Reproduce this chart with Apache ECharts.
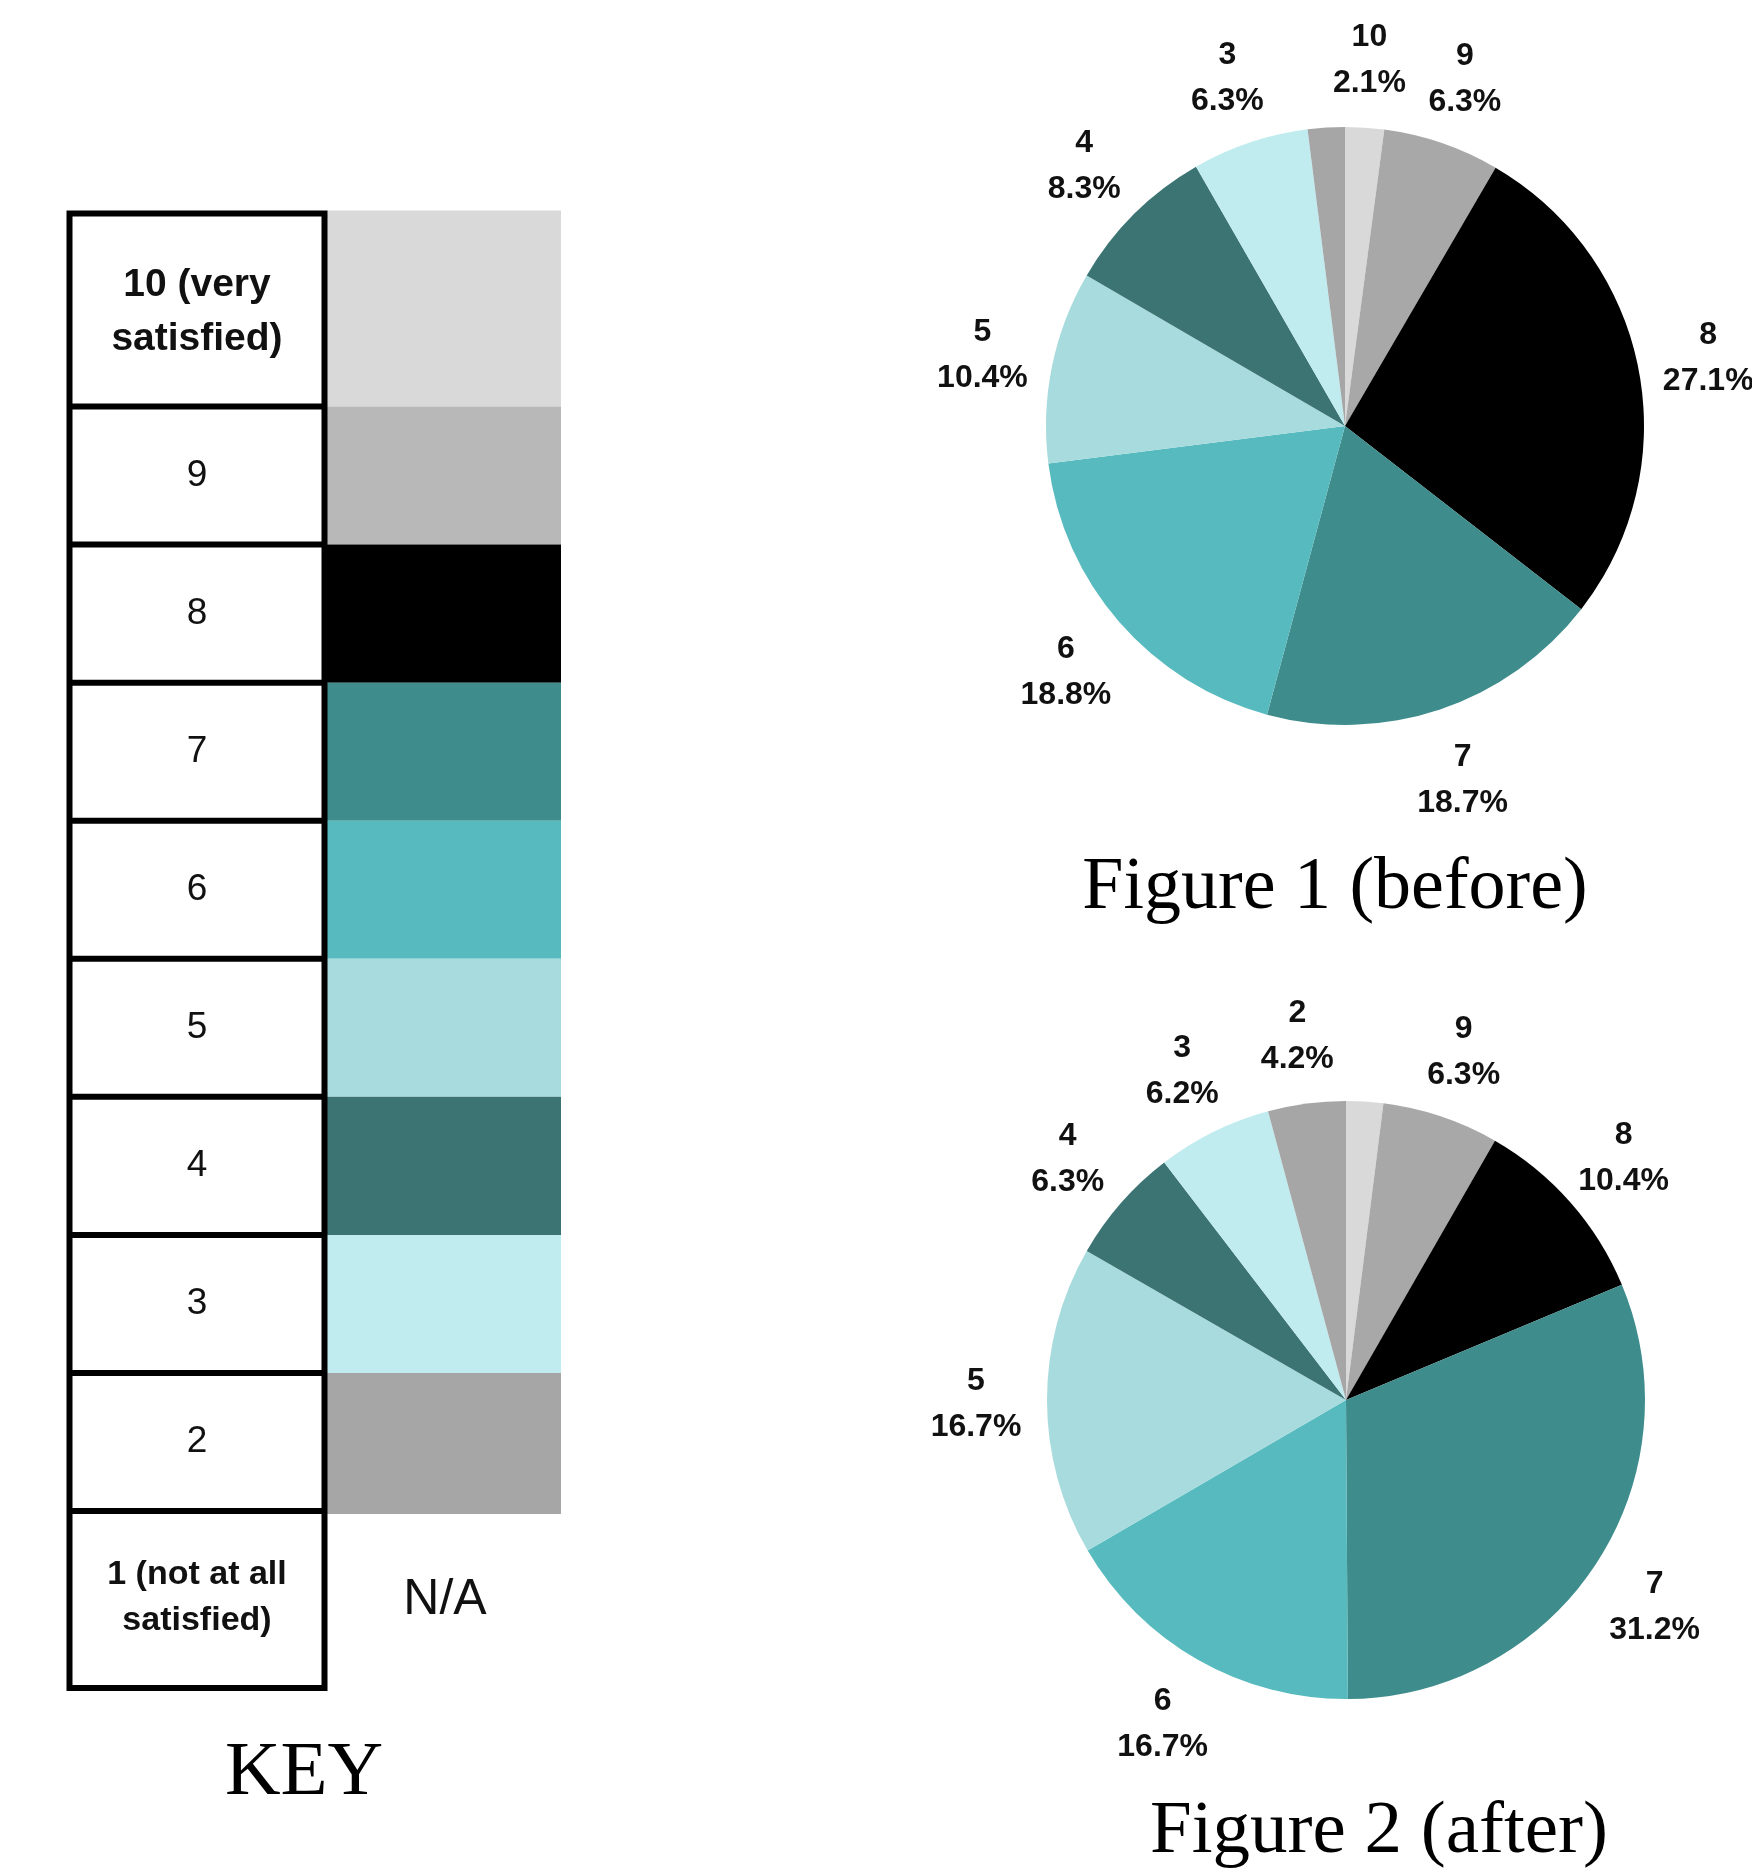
<!DOCTYPE html>
<html>
<head>
<meta charset="utf-8">
<title>Satisfaction before and after</title>
<script src="https://cdn.jsdelivr.net/npm/echarts@6/dist/echarts.min.js"></script>
<style>
  html, body { margin: 0; padding: 0; background: #ffffff; }
  #chart { width: 1752px; height: 1873px; }
</style>
</head>
<body>
<div id="chart"></div>
<script>
// Satisfaction scores, in slice order (clockwise from 12 o'clock)
const scores = ['10', '9', '8', '7', '6', '5', '4', '3', '2'];

// Share of responses per score, in percent
const beforeValues = [2.1, 6.3, 27.1, 18.7, 18.8, 10.4, 8.3, 6.3, 2.0];
const afterValues  = [2.0, 6.3, 10.4, 31.2, 16.7, 16.7, 6.3, 6.2, 4.2];

// Slices that carry a value label
const beforeLabelled = [true, true, true, true, true, true, true, true, false];
const afterLabelled  = [false, true, true, true, true, true, true, true, true];

// Slice fills, one per score
const sliceColors = ['#d9d9d9', '#a8a8a8', '#000000', '#3f8c8c', '#56babe', '#a7dbdd', '#3c7474', '#c0ecef', '#a6a6a6'];

// Key rows, top to bottom
const keyLabels = ['10 (very\nsatisfied)', '9', '8', '7', '6', '5', '4', '3', '2', '1 (not at all\nsatisfied)'];
const keyColors = ['#d9d9d9', '#b9b8b9', '#000000', '#3f8c8c', '#56babe', '#a7dbdd', '#3c7474', '#c0ecef', '#a6a6a6', null];
const keyMissingText = 'N/A';

const titleBefore = 'Figure 1 (before)';
const titleAfter = 'Figure 2 (after)';
const titleKey = 'KEY';

// ---- layout ----
const PIE_R = 299;
const LABEL_R = 367;
const LABEL_DROP = 3;
const PIE_BEFORE_CENTER = [1345, 426];
const PIE_AFTER_CENTER = [1346, 1400];

const KEY = {
  left: 69.5, right: 324.5,
  top: 213.5, firstLine: 406.5, lastLine: 1511, bottom: 1688,
  swatchLeft: 327, swatchRight: 561,
  line: 6
};

const SANS = '"Liberation Sans", Arial, sans-serif';
const SERIF = '"Liberation Serif", "Times New Roman", serif';

function rowBounds() {
  // boundaries between key rows; middle rows share one height
  const b = [KEY.top, KEY.firstLine];
  const n = keyLabels.length - 2;
  const h = (KEY.lastLine - KEY.firstLine) / n;
  for (let k = 1; k <= n; k++) b.push(KEY.firstLine + k * h);
  b.push(KEY.bottom);
  return b;
}

function keyGraphics() {
  const b = rowBounds();
  const els = [];
  const half = KEY.line / 2;
  // colour swatches
  keyColors.forEach((c, i) => {
    if (!c) return;
    const y0 = i === 0 ? KEY.top - half : b[i];
    const y1 = i === keyColors.length - 2 ? b[i + 1] + half : b[i + 1];
    els.push({
      type: 'rect', silent: true,
      shape: { x: KEY.swatchLeft, y: y0, width: KEY.swatchRight - KEY.swatchLeft, height: y1 - y0 },
      style: { fill: c }
    });
  });
  // outer frame
  els.push({
    type: 'rect', silent: true,
    shape: { x: KEY.left, y: KEY.top, width: KEY.right - KEY.left, height: KEY.bottom - KEY.top },
    style: { fill: 'none', stroke: '#000', lineWidth: KEY.line }
  });
  // row dividers
  for (let k = 1; k < b.length - 1; k++) {
    els.push({
      type: 'line', silent: true,
      shape: { x1: KEY.left, y1: b[k], x2: KEY.right, y2: b[k] },
      style: { stroke: '#000', lineWidth: KEY.line }
    });
  }
  // row texts
  const cx = (KEY.left + KEY.right) / 2;
  keyLabels.forEach((t, i) => {
    const first = i === 0, last = i === keyLabels.length - 1;
    els.push({
      type: 'text', silent: true,
      x: cx, y: (b[i] + b[i + 1]) / 2 + (first ? 2 : last ? -2 : 0),
      style: {
        text: t, align: 'center', verticalAlign: 'middle',
        fontFamily: SANS,
        fontSize: first ? 39 : last ? 34 : 37,
        fontWeight: (first || last) ? 'bold' : 'normal',
        lineHeight: last ? 46 : 54,
        fill: '#111'
      }
    });
  });
  // missing colour for the lowest score
  els.push({
    type: 'text', silent: true,
    x: (KEY.swatchLeft + KEY.swatchRight) / 2 + 1, y: (b[b.length - 2] + b[b.length - 1]) / 2 + 1,
    style: { text: keyMissingText, align: 'center', verticalAlign: 'middle', fontFamily: SANS, fontSize: 50, fill: '#111' }
  });
  return els;
}

function titleGraphic(text, x, baseline, size) {
  return {
    type: 'text', silent: true,
    x: x, y: baseline - 0.3375 * size,
    style: { text, align: 'center', verticalAlign: 'middle', fontFamily: SERIF, fontSize: size, fill: '#000' }
  };
}

function pieSeries(values, labelled, center) {
  return [
    {
      type: 'pie', center: center, radius: PIE_R,
      startAngle: 90, clockwise: true, avoidLabelOverlap: false,
      silent: true, emphasis: { disabled: true },
      label: { show: false }, labelLine: { show: false },
      itemStyle: { borderWidth: 0 },
      data: scores.map((s, i) => ({ name: s, value: values[i], itemStyle: { color: sliceColors[i] } }))
    },
    {
      // invisible ring used only to place the value labels around the pie
      type: 'pie', center: [center[0], center[1] + LABEL_DROP], radius: [LABEL_R - 8, LABEL_R + 8],
      startAngle: 90, clockwise: true, avoidLabelOverlap: false,
      silent: true, emphasis: { disabled: true },
      itemStyle: { color: 'rgba(0,0,0,0)', borderWidth: 0 },
      labelLine: { show: false },
      label: {
        position: 'inside', rotate: 0,
        formatter: p => p.name + '\n' + p.value.toFixed(1) + '%',
        fontFamily: SANS, fontWeight: 'bold', fontSize: 32, lineHeight: 46, color: '#111'
      },
      data: scores.map((s, i) => ({ name: s, value: values[i], label: { show: labelled[i] } }))
    }
  ];
}

const chart = echarts.init(document.getElementById('chart'), null, { renderer: 'canvas' });
chart.setOption({
  backgroundColor: '#ffffff',
  animation: false,
  series: [
    ...pieSeries(beforeValues, beforeLabelled, PIE_BEFORE_CENTER),
    ...pieSeries(afterValues, afterLabelled, PIE_AFTER_CENTER)
  ],
  graphic: [
    ...keyGraphics(),
    titleGraphic(titleBefore, 1335, 914, 74),
    titleGraphic(titleAfter, 1379, 1858, 75),
    titleGraphic(titleKey, 304, 1800, 77)
  ]
});
</script>
</body>
</html>
